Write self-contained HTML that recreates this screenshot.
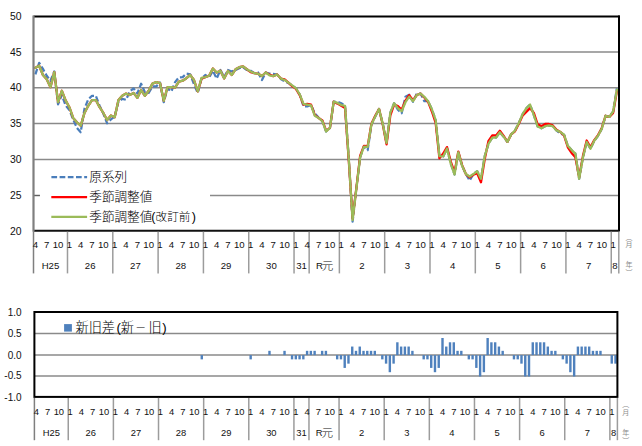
<!DOCTYPE html><html><head><meta charset="utf-8"><style>
html,body{margin:0;padding:0;background:#fff;}
svg{display:block;}
.n{font-family:"Liberation Sans",Arial,sans-serif;fill:#111;}
.j{font-family:"Liberation Sans","Noto Sans CJK JP",sans-serif;fill:#111;}.L{font-weight:300;fill:#000;}
</style></head><body>
<svg width="642" height="446" viewBox="0 0 642 446">
<rect width="642" height="446" fill="#fff"/>
<line x1="33.5" y1="52.0" x2="618.8" y2="52.0" stroke="#8a8a8a" stroke-width="1.5"/>
<line x1="33.5" y1="87.85" x2="618.8" y2="87.85" stroke="#8a8a8a" stroke-width="1.5"/>
<line x1="33.5" y1="123.6" x2="618.8" y2="123.6" stroke="#8a8a8a" stroke-width="1.5"/>
<line x1="33.5" y1="159.6" x2="618.8" y2="159.6" stroke="#8a8a8a" stroke-width="1.5"/>
<line x1="33.5" y1="195.5" x2="618.8" y2="195.5" stroke="#8a8a8a" stroke-width="1.5"/>
<text class="n" x="21.6" y="19.95" font-size="10.4" text-anchor="end">50</text>
<text class="n" x="21.6" y="55.72" font-size="10.4" text-anchor="end">45</text>
<text class="n" x="21.6" y="91.48" font-size="10.4" text-anchor="end">40</text>
<text class="n" x="21.6" y="127.25" font-size="10.4" text-anchor="end">35</text>
<text class="n" x="21.6" y="163.01" font-size="10.4" text-anchor="end">30</text>
<text class="n" x="21.6" y="198.78" font-size="10.4" text-anchor="end">25</text>
<text class="n" x="21.6" y="234.54" font-size="10.4" text-anchor="end">20</text>
<rect x="40" y="162" width="170" height="66" fill="#fff"/>
<line x1="33.5" y1="195.5" x2="39.8" y2="195.5" stroke="#606060" stroke-width="1.1"/>
<path d="M35.39 74.29 L39.16 62.84 L42.94 68.92 L46.72 75.72 L50.49 80.73 L54.27 71.43 L58.04 104.33 L61.82 95.03 L65.6 105.4 L69.37 110.05 L73.15 119.35 L76.93 127.94 L80.7 132.23 L84.48 108.62 L88.25 99.32 L92.03 95.75 L95.81 95.75 L99.58 105.76 L103.36 113.63 L107.13 123.29 L110.91 119.35 L114.69 116.49 L118.46 101.47 L122.24 98.82 L126.02 99.83 L129.79 91.46 L133.57 88.38 L137.34 93.39 L141.12 83.73 L144.9 92.1 L148.67 92.89 L152.45 86.45 L156.22 86.45 L160 82.52 L163.78 102.19 L167.55 88.24 L171.33 91.46 L175.1 82.16 L178.88 77.37 L182.66 77.15 L186.43 73.57 L190.21 74.29 L193.99 84.3 L197.76 92.89 L201.54 78.58 L205.31 75 L209.09 77.51 L212.87 70.71 L216.64 78.58 L220.42 70 L224.19 77.15 L227.97 70 L231.75 71.43 L235.52 70 L239.3 68.21 L243.08 67.14 L246.85 70 L250.63 70.71 L254.4 73.22 L258.18 72.5 L261.96 80.01 L265.73 72.5 L269.51 73.57 L273.28 73.93 L277.06 74.5 L280.84 78.94 L284.61 81.44 L288.39 82.87 L292.16 85.73 L295.94 88.24 L299.72 94.32 L303.49 106.48 L307.27 106.48 L311.05 105.05 L314.82 113.63 L318.6 117.56 L322.37 121.14 L326.15 131.51 L329.93 127.94 L333.7 101.69 L337.48 101.83 L341.25 103.26 L345.03 105.76 L348.81 159.41 L352.58 221.64 L356.36 188.74 L360.14 157.26 L363.91 146.53 L367.69 150.11 L371.46 124.36 L375.24 116.49 L379.02 108.98 L382.79 123.86 L386.57 142.96 L390.34 112.56 L394.12 103.26 L397.9 109.7 L401.67 113.2 L405.45 96.68 L409.22 94.68 L413 101.83 L416.78 93.67 L420.55 93.6 L424.33 101.18 L428.11 101.18 L431.88 109.34 L435.66 120.07 L439.43 156.19 L443.21 156.41 L446.99 148.54 L450.76 163.7 L454.54 174.5 L458.31 152.26 L462.09 165.85 L465.87 174.07 L469.64 180.51 L473.42 174.07 L477.2 171.14 L480.97 178.72 L484.75 156.19 L488.52 143.67 L492.3 137.66 L496.08 137.52 L499.85 132.23 L503.63 136.66 L507.4 141.89 L511.18 134.37 L514.96 130.58 L518.73 123.29 L522.51 114.35 L526.28 108.27 L530.06 104.55 L533.84 115.06 L537.61 126.51 L541.39 128.29 L545.17 126.15 L548.94 125.43 L552.72 126.15 L556.49 130.44 L560.27 133.66 L564.05 134.73 L567.82 145.82 L571.6 150.11 L575.37 153.69 L579.15 178.72 L582.93 157.55 L586.7 141.96 L590.48 148.68 L594.26 140.81 L598.03 135.81 L601.81 128.65 L605.58 115.78 L609.36 116.85 L613.14 111.48 L616.91 88.24" fill="none" stroke="#4a7ebb" stroke-width="2.25" stroke-dasharray="5.7 2.5" stroke-linejoin="round"/>
<path d="M35.39 67.85 L39.16 65.71 L42.94 75 L46.72 79.3 L50.49 87.16 L54.27 72.14 L58.04 102.19 L61.82 90.74 L65.6 100.4 L69.37 107.19 L73.15 117.92 L76.93 122.21 L80.7 125.79 L84.48 112.92 L88.25 105.76 L92.03 100.04 L95.81 100.04 L99.58 107.19 L103.36 112.92 L107.13 120.07 L110.91 115.42 L114.69 117.21 L118.46 100.04 L122.24 95.75 L126.02 93.6 L129.79 95.03 L133.57 92.89 L137.34 97.89 L141.12 90.03 L144.9 95.75 L148.67 90.74 L152.45 83.59 L156.22 82.16 L160 83.09 L163.78 100.76 L167.55 87.16 L171.33 87.16 L175.1 87.52 L178.88 81.66 L182.66 80.73 L186.43 78.22 L190.21 75 L193.99 80.01 L197.76 91.46 L201.54 78.58 L205.31 77.15 L209.09 75.72 L212.87 68.57 L216.64 72.5 L220.42 70.71 L224.19 78.58 L227.97 71.07 L231.75 75 L235.52 69.28 L239.3 67.14 L243.08 66.42 L246.85 69.28 L250.63 72.14 L254.4 73.22 L258.18 73.79 L261.96 76.01 L265.73 72.5 L269.51 74.65 L273.28 76.15 L277.06 74.5 L280.84 78.58 L284.61 79.3 L288.39 82.66 L292.16 86.09 L295.94 88.95 L299.72 95.03 L303.49 104.62 L307.27 103.97 L311.05 104.69 L314.82 115.06 L318.6 117.92 L322.37 120.43 L326.15 130.8 L329.93 127.94 L333.7 101.69 L337.48 103.62 L341.25 105.76 L345.03 107.91 L348.81 160.84 L352.58 218.78 L356.36 188.02 L360.14 155.83 L363.91 145.82 L367.69 146.18 L371.46 123.65 L375.24 115.78 L379.02 108.98 L382.79 124.57 L386.57 144.39 L390.34 115.42 L394.12 104.69 L397.9 106.12 L401.67 109.77 L405.45 100.76 L409.22 95.25 L413 100.47 L416.78 95.03 L420.55 93.6 L424.33 97.54 L428.11 101.9 L431.88 111.48 L435.66 122.93 L439.43 158.34 L443.21 153.54 L446.99 147.11 L450.76 161.56 L454.54 172.36 L458.31 151.54 L462.09 165.13 L465.87 174.07 L469.64 177.29 L473.42 174.79 L477.2 173.29 L480.97 182.3 L484.75 159.05 L488.52 140.81 L492.3 135.52 L496.08 135.38 L499.85 130.8 L503.63 135.95 L507.4 141.89 L511.18 134.37 L514.96 131.3 L518.73 124 L522.51 115.78 L526.28 111.84 L530.06 108.12 L533.84 112.92 L537.61 124.36 L541.39 126.15 L545.17 124 L548.94 124 L552.72 125.43 L556.49 129.73 L560.27 131.94 L564.05 135.45 L567.82 147.25 L571.6 152.97 L575.37 157.26 L579.15 177.29 L582.93 156.12 L586.7 140.53 L590.48 147.25 L594.26 140.1 L598.03 135.09 L601.81 127.94 L605.58 115.78 L609.36 116.85 L613.14 112.92 L616.91 91.1" fill="none" stroke="#ff0000" stroke-width="2.3" stroke-linejoin="round" stroke-linecap="round"/>
<path d="M35.39 67.85 L39.16 65.71 L42.94 75 L46.72 79.3 L50.49 87.16 L54.27 72.14 L58.04 102.19 L61.82 90.74 L65.6 100.4 L69.37 107.19 L73.15 117.92 L76.93 122.21 L80.7 125.79 L84.48 112.92 L88.25 105.76 L92.03 100.04 L95.81 100.04 L99.58 107.19 L103.36 112.92 L107.13 120.07 L110.91 115.42 L114.69 117.21 L118.46 100.04 L122.24 95.75 L126.02 93.6 L129.79 95.03 L133.57 92.89 L137.34 97.89 L141.12 90.03 L144.9 95.75 L148.67 90.74 L152.45 83.59 L156.22 82.16 L160 83.09 L163.78 100.76 L167.55 87.16 L171.33 87.16 L175.1 87.52 L178.88 81.66 L182.66 80.73 L186.43 78.22 L190.21 75 L193.99 80.01 L197.76 91.46 L201.54 77.87 L205.31 77.15 L209.09 75.72 L212.87 68.57 L216.64 72.5 L220.42 70.71 L224.19 78.58 L227.97 71.07 L231.75 75 L235.52 69.28 L239.3 67.14 L243.08 66.42 L246.85 69.28 L250.63 71.43 L254.4 73.22 L258.18 73.79 L261.96 76.01 L265.73 72.5 L269.51 75.36 L273.28 76.15 L277.06 74.5 L280.84 78.58 L284.61 80.01 L288.39 82.66 L292.16 85.38 L295.94 88.24 L299.72 94.32 L303.49 103.9 L307.27 104.69 L311.05 105.4 L314.82 115.78 L318.6 117.92 L322.37 121.14 L326.15 131.51 L329.93 127.94 L333.7 101.69 L337.48 102.9 L341.25 105.05 L345.03 105.76 L348.81 159.41 L352.58 220.21 L356.36 188.74 L360.14 157.26 L363.91 146.53 L367.69 146.89 L371.46 124.36 L375.24 116.49 L379.02 108.98 L382.79 123.86 L386.57 142.96 L390.34 112.56 L394.12 103.26 L397.9 108.27 L401.67 111.2 L405.45 102.19 L409.22 96.68 L413 101.18 L416.78 95.03 L420.55 93.6 L424.33 96.82 L428.11 101.18 L431.88 109.34 L435.66 120.07 L439.43 156.19 L443.21 156.41 L446.99 148.54 L450.76 163.7 L454.54 174.5 L458.31 152.26 L462.09 165.85 L465.87 174.07 L469.64 176.58 L473.42 174.07 L477.2 171.14 L480.97 178.72 L484.75 156.19 L488.52 143.67 L492.3 137.66 L496.08 137.52 L499.85 132.23 L503.63 136.66 L507.4 141.89 L511.18 134.37 L514.96 130.58 L518.73 123.29 L522.51 114.35 L526.28 108.27 L530.06 104.55 L533.84 115.06 L537.61 126.51 L541.39 128.29 L545.17 126.15 L548.94 125.43 L552.72 126.15 L556.49 130.44 L560.27 131.94 L564.05 134.73 L567.82 145.82 L571.6 150.11 L575.37 153.69 L579.15 178.72 L582.93 157.55 L586.7 141.96 L590.48 148.68 L594.26 140.81 L598.03 135.81 L601.81 128.65 L605.58 115.78 L609.36 116.85 L613.14 111.48 L616.91 89.67" fill="none" stroke="#9bbb59" stroke-width="2.3" stroke-linejoin="round" stroke-linecap="round"/>
<line x1="51.4" y1="177" x2="87.1" y2="177" stroke="#4a7ebb" stroke-width="2.25" stroke-dasharray="5.7 2.5"/>
<line x1="51.3" y1="197" x2="87.1" y2="197" stroke="#ff0000" stroke-width="2.25"/>
<line x1="51.3" y1="216.9" x2="87.1" y2="216.9" stroke="#9bbb59" stroke-width="2.25"/>
<text class="j L" x="89.3" y="181.2" font-size="12.6">原系列</text>
<text class="j L" x="89.3" y="201.2" font-size="12.6">季節調整値</text>
<text class="j L" y="221.2" font-size="12.6"><tspan x="89.3">季節調整値</tspan><tspan x="151.3">(</tspan><tspan x="155.6" font-size="11.6">改訂前</tspan><tspan x="191.8">)</tspan></text>
<line x1="33.5" y1="16.5" x2="619.8" y2="16.5" stroke="#000" stroke-width="2"/>
<line x1="619" y1="15.5" x2="619" y2="231.6" stroke="#000" stroke-width="2"/>
<line x1="33.5" y1="230.7" x2="618.8" y2="230.7" stroke="#111" stroke-width="2"/>
<line x1="33.5" y1="15.5" x2="33.5" y2="231.7" stroke="#7f7f7f" stroke-width="2.2"/>
<line x1="33.5" y1="231.7" x2="33.5" y2="273.4" stroke="#7f7f7f" stroke-width="1.5"/>
<line x1="67.49" y1="231.7" x2="67.49" y2="273.4" stroke="#9c9c9c" stroke-width="1.5"/>
<line x1="112.8" y1="231.7" x2="112.8" y2="273.4" stroke="#9c9c9c" stroke-width="1.5"/>
<line x1="158.11" y1="231.7" x2="158.11" y2="273.4" stroke="#9c9c9c" stroke-width="1.5"/>
<line x1="203.43" y1="231.7" x2="203.43" y2="273.4" stroke="#9c9c9c" stroke-width="1.5"/>
<line x1="248.74" y1="231.7" x2="248.74" y2="273.4" stroke="#9c9c9c" stroke-width="1.5"/>
<line x1="294.05" y1="231.7" x2="294.05" y2="273.4" stroke="#9c9c9c" stroke-width="1.5"/>
<line x1="309.16" y1="231.7" x2="309.16" y2="273.4" stroke="#9c9c9c" stroke-width="1.5"/>
<line x1="339.37" y1="231.7" x2="339.37" y2="273.4" stroke="#9c9c9c" stroke-width="1.5"/>
<line x1="384.68" y1="231.7" x2="384.68" y2="273.4" stroke="#9c9c9c" stroke-width="1.5"/>
<line x1="429.99" y1="231.7" x2="429.99" y2="273.4" stroke="#9c9c9c" stroke-width="1.5"/>
<line x1="475.31" y1="231.7" x2="475.31" y2="273.4" stroke="#9c9c9c" stroke-width="1.5"/>
<line x1="520.62" y1="231.7" x2="520.62" y2="273.4" stroke="#9c9c9c" stroke-width="1.5"/>
<line x1="565.93" y1="231.7" x2="565.93" y2="273.4" stroke="#9c9c9c" stroke-width="1.5"/>
<line x1="611.25" y1="231.7" x2="611.25" y2="273.4" stroke="#9c9c9c" stroke-width="1.5"/>
<line x1="618.8" y1="231.7" x2="618.8" y2="273.4" stroke="#9c9c9c" stroke-width="1.5"/>
<text class="n" x="35.39" y="248.1" font-size="9.6" text-anchor="middle">4</text>
<text class="n" x="46.72" y="248.1" font-size="9.6" text-anchor="middle">7</text>
<text class="n" x="58.04" y="248.1" font-size="9.6" text-anchor="middle">10</text>
<text class="n" x="69.37" y="248.1" font-size="9.6" text-anchor="middle">1</text>
<text class="n" x="80.7" y="248.1" font-size="9.6" text-anchor="middle">4</text>
<text class="n" x="92.03" y="248.1" font-size="9.6" text-anchor="middle">7</text>
<text class="n" x="103.36" y="248.1" font-size="9.6" text-anchor="middle">10</text>
<text class="n" x="114.69" y="248.1" font-size="9.6" text-anchor="middle">1</text>
<text class="n" x="126.02" y="248.1" font-size="9.6" text-anchor="middle">4</text>
<text class="n" x="137.34" y="248.1" font-size="9.6" text-anchor="middle">7</text>
<text class="n" x="148.67" y="248.1" font-size="9.6" text-anchor="middle">10</text>
<text class="n" x="160" y="248.1" font-size="9.6" text-anchor="middle">1</text>
<text class="n" x="171.33" y="248.1" font-size="9.6" text-anchor="middle">4</text>
<text class="n" x="182.66" y="248.1" font-size="9.6" text-anchor="middle">7</text>
<text class="n" x="193.99" y="248.1" font-size="9.6" text-anchor="middle">10</text>
<text class="n" x="205.31" y="248.1" font-size="9.6" text-anchor="middle">1</text>
<text class="n" x="216.64" y="248.1" font-size="9.6" text-anchor="middle">4</text>
<text class="n" x="227.97" y="248.1" font-size="9.6" text-anchor="middle">7</text>
<text class="n" x="239.3" y="248.1" font-size="9.6" text-anchor="middle">10</text>
<text class="n" x="250.63" y="248.1" font-size="9.6" text-anchor="middle">1</text>
<text class="n" x="261.96" y="248.1" font-size="9.6" text-anchor="middle">4</text>
<text class="n" x="273.28" y="248.1" font-size="9.6" text-anchor="middle">7</text>
<text class="n" x="284.61" y="248.1" font-size="9.6" text-anchor="middle">10</text>
<text class="n" x="295.94" y="248.1" font-size="9.6" text-anchor="middle">1</text>
<text class="n" x="307.27" y="248.1" font-size="9.6" text-anchor="middle">4</text>
<text class="n" x="318.6" y="248.1" font-size="9.6" text-anchor="middle">7</text>
<text class="n" x="329.93" y="248.1" font-size="9.6" text-anchor="middle">10</text>
<text class="n" x="341.25" y="248.1" font-size="9.6" text-anchor="middle">1</text>
<text class="n" x="352.58" y="248.1" font-size="9.6" text-anchor="middle">4</text>
<text class="n" x="363.91" y="248.1" font-size="9.6" text-anchor="middle">7</text>
<text class="n" x="375.24" y="248.1" font-size="9.6" text-anchor="middle">10</text>
<text class="n" x="386.57" y="248.1" font-size="9.6" text-anchor="middle">1</text>
<text class="n" x="397.9" y="248.1" font-size="9.6" text-anchor="middle">4</text>
<text class="n" x="409.22" y="248.1" font-size="9.6" text-anchor="middle">7</text>
<text class="n" x="420.55" y="248.1" font-size="9.6" text-anchor="middle">10</text>
<text class="n" x="431.88" y="248.1" font-size="9.6" text-anchor="middle">1</text>
<text class="n" x="443.21" y="248.1" font-size="9.6" text-anchor="middle">4</text>
<text class="n" x="454.54" y="248.1" font-size="9.6" text-anchor="middle">7</text>
<text class="n" x="465.87" y="248.1" font-size="9.6" text-anchor="middle">10</text>
<text class="n" x="477.2" y="248.1" font-size="9.6" text-anchor="middle">1</text>
<text class="n" x="488.52" y="248.1" font-size="9.6" text-anchor="middle">4</text>
<text class="n" x="499.85" y="248.1" font-size="9.6" text-anchor="middle">7</text>
<text class="n" x="511.18" y="248.1" font-size="9.6" text-anchor="middle">10</text>
<text class="n" x="522.51" y="248.1" font-size="9.6" text-anchor="middle">1</text>
<text class="n" x="533.84" y="248.1" font-size="9.6" text-anchor="middle">4</text>
<text class="n" x="545.17" y="248.1" font-size="9.6" text-anchor="middle">7</text>
<text class="n" x="556.49" y="248.1" font-size="9.6" text-anchor="middle">10</text>
<text class="n" x="567.82" y="248.1" font-size="9.6" text-anchor="middle">1</text>
<text class="n" x="579.15" y="248.1" font-size="9.6" text-anchor="middle">4</text>
<text class="n" x="590.48" y="248.1" font-size="9.6" text-anchor="middle">7</text>
<text class="n" x="601.81" y="248.1" font-size="9.6" text-anchor="middle">10</text>
<text class="n" x="613.14" y="248.1" font-size="9.6" text-anchor="middle">1</text>
<text class="j" x="50.49" y="269.1" font-size="9.6" text-anchor="middle">H25</text>
<text class="j" x="90.14" y="269.1" font-size="9.6" text-anchor="middle">26</text>
<text class="j" x="135.46" y="269.1" font-size="9.6" text-anchor="middle">27</text>
<text class="j" x="180.77" y="269.1" font-size="9.6" text-anchor="middle">28</text>
<text class="j" x="226.08" y="269.1" font-size="9.6" text-anchor="middle">29</text>
<text class="j" x="271.4" y="269.1" font-size="9.6" text-anchor="middle">30</text>
<text class="j" x="301.61" y="269.1" font-size="9.6" text-anchor="middle">31</text>
<text class="j" x="316.06" y="269.1" font-size="9.6">R<tspan x="321.76" font-size="11.6" font-weight="300" dy="0.8">元</tspan></text>
<text class="j" x="362.02" y="269.1" font-size="9.6" text-anchor="middle">2</text>
<text class="j" x="407.34" y="269.1" font-size="9.6" text-anchor="middle">3</text>
<text class="j" x="452.65" y="269.1" font-size="9.6" text-anchor="middle">4</text>
<text class="j" x="497.96" y="269.1" font-size="9.6" text-anchor="middle">5</text>
<text class="j" x="543.28" y="269.1" font-size="9.6" text-anchor="middle">6</text>
<text class="j" x="588.59" y="269.1" font-size="9.6" text-anchor="middle">7</text>
<text class="j" x="615.02" y="269.1" font-size="9.6" text-anchor="middle">8</text>
<text class="j" x="628.9" y="240.2" font-size="7" style="fill:#8c8c8c" text-anchor="middle">︵</text>
<text class="j" x="628.9" y="247.1" font-size="7" style="fill:#8c8c8c" text-anchor="middle">月</text>
<text class="j" x="628.9" y="267.3" font-size="7" style="fill:#8c8c8c" text-anchor="middle">年</text>
<text class="j" x="628.9" y="275.4" font-size="7" style="fill:#8c8c8c" text-anchor="middle">︶</text>
<line x1="34.4" y1="333.4" x2="617.4" y2="333.4" stroke="#8a8a8a" stroke-width="1.5"/>
<line x1="34.4" y1="355.1" x2="617.4" y2="355.1" stroke="#8a8a8a" stroke-width="1.5"/>
<line x1="34.4" y1="376.1" x2="617.4" y2="376.1" stroke="#8a8a8a" stroke-width="1.5"/>
<text class="n" x="21.6" y="315.5" font-size="10" text-anchor="end">1.0</text>
<text class="n" x="21.6" y="337" font-size="10" text-anchor="end">0.5</text>
<text class="n" x="21.6" y="358.5" font-size="10" text-anchor="end">0.0</text>
<text class="n" x="21.6" y="379.3" font-size="10" text-anchor="end">-0.5</text>
<text class="n" x="21.6" y="400.7" font-size="10" text-anchor="end">-1.0</text>
<rect x="200.58" y="355.1" width="2.4" height="4.27" fill="#4f81bd"/>
<rect x="249.47" y="355.1" width="2.4" height="4.27" fill="#4f81bd"/>
<rect x="268.28" y="350.83" width="2.4" height="4.27" fill="#4f81bd"/>
<rect x="283.33" y="350.83" width="2.4" height="4.27" fill="#4f81bd"/>
<rect x="290.85" y="355.1" width="2.4" height="4.27" fill="#4f81bd"/>
<rect x="294.61" y="355.1" width="2.4" height="4.27" fill="#4f81bd"/>
<rect x="298.37" y="355.1" width="2.4" height="4.27" fill="#4f81bd"/>
<rect x="302.13" y="355.1" width="2.4" height="4.27" fill="#4f81bd"/>
<rect x="305.89" y="350.83" width="2.4" height="4.27" fill="#4f81bd"/>
<rect x="309.65" y="350.83" width="2.4" height="4.27" fill="#4f81bd"/>
<rect x="313.42" y="350.83" width="2.4" height="4.27" fill="#4f81bd"/>
<rect x="320.94" y="350.83" width="2.4" height="4.27" fill="#4f81bd"/>
<rect x="324.7" y="350.83" width="2.4" height="4.27" fill="#4f81bd"/>
<rect x="335.98" y="355.1" width="2.4" height="4.27" fill="#4f81bd"/>
<rect x="339.75" y="355.1" width="2.4" height="4.27" fill="#4f81bd"/>
<rect x="343.51" y="355.1" width="2.4" height="12.82" fill="#4f81bd"/>
<rect x="347.27" y="355.1" width="2.4" height="8.55" fill="#4f81bd"/>
<rect x="351.03" y="346.55" width="2.4" height="8.55" fill="#4f81bd"/>
<rect x="354.79" y="350.83" width="2.4" height="4.27" fill="#4f81bd"/>
<rect x="358.55" y="346.55" width="2.4" height="8.55" fill="#4f81bd"/>
<rect x="362.31" y="350.83" width="2.4" height="4.27" fill="#4f81bd"/>
<rect x="366.07" y="350.83" width="2.4" height="4.27" fill="#4f81bd"/>
<rect x="369.84" y="350.83" width="2.4" height="4.27" fill="#4f81bd"/>
<rect x="373.6" y="350.83" width="2.4" height="4.27" fill="#4f81bd"/>
<rect x="381.12" y="355.1" width="2.4" height="4.27" fill="#4f81bd"/>
<rect x="384.88" y="355.1" width="2.4" height="8.55" fill="#4f81bd"/>
<rect x="388.64" y="355.1" width="2.4" height="17.1" fill="#4f81bd"/>
<rect x="392.4" y="355.1" width="2.4" height="8.55" fill="#4f81bd"/>
<rect x="396.16" y="342.28" width="2.4" height="12.82" fill="#4f81bd"/>
<rect x="399.93" y="346.55" width="2.4" height="8.55" fill="#4f81bd"/>
<rect x="403.69" y="346.55" width="2.4" height="8.55" fill="#4f81bd"/>
<rect x="407.45" y="346.55" width="2.4" height="8.55" fill="#4f81bd"/>
<rect x="411.21" y="350.83" width="2.4" height="4.27" fill="#4f81bd"/>
<rect x="422.49" y="355.1" width="2.4" height="4.27" fill="#4f81bd"/>
<rect x="426.25" y="355.1" width="2.4" height="4.27" fill="#4f81bd"/>
<rect x="430.02" y="355.1" width="2.4" height="12.82" fill="#4f81bd"/>
<rect x="433.78" y="355.1" width="2.4" height="17.1" fill="#4f81bd"/>
<rect x="437.54" y="355.1" width="2.4" height="12.82" fill="#4f81bd"/>
<rect x="441.3" y="338" width="2.4" height="17.1" fill="#4f81bd"/>
<rect x="445.06" y="346.55" width="2.4" height="8.55" fill="#4f81bd"/>
<rect x="448.82" y="342.28" width="2.4" height="12.82" fill="#4f81bd"/>
<rect x="452.58" y="342.28" width="2.4" height="12.82" fill="#4f81bd"/>
<rect x="456.35" y="350.83" width="2.4" height="4.27" fill="#4f81bd"/>
<rect x="460.11" y="350.83" width="2.4" height="4.27" fill="#4f81bd"/>
<rect x="467.63" y="355.1" width="2.4" height="4.27" fill="#4f81bd"/>
<rect x="471.39" y="355.1" width="2.4" height="4.27" fill="#4f81bd"/>
<rect x="475.15" y="355.1" width="2.4" height="12.82" fill="#4f81bd"/>
<rect x="478.91" y="355.1" width="2.4" height="21.38" fill="#4f81bd"/>
<rect x="482.67" y="355.1" width="2.4" height="17.1" fill="#4f81bd"/>
<rect x="486.44" y="338" width="2.4" height="17.1" fill="#4f81bd"/>
<rect x="490.2" y="342.28" width="2.4" height="12.82" fill="#4f81bd"/>
<rect x="493.96" y="342.28" width="2.4" height="12.82" fill="#4f81bd"/>
<rect x="497.72" y="346.55" width="2.4" height="8.55" fill="#4f81bd"/>
<rect x="501.48" y="350.83" width="2.4" height="4.27" fill="#4f81bd"/>
<rect x="512.76" y="355.1" width="2.4" height="4.27" fill="#4f81bd"/>
<rect x="516.53" y="355.1" width="2.4" height="4.27" fill="#4f81bd"/>
<rect x="520.29" y="355.1" width="2.4" height="8.55" fill="#4f81bd"/>
<rect x="524.05" y="355.1" width="2.4" height="21.38" fill="#4f81bd"/>
<rect x="527.81" y="355.1" width="2.4" height="21.38" fill="#4f81bd"/>
<rect x="531.57" y="342.28" width="2.4" height="12.82" fill="#4f81bd"/>
<rect x="535.33" y="342.28" width="2.4" height="12.82" fill="#4f81bd"/>
<rect x="539.09" y="342.28" width="2.4" height="12.82" fill="#4f81bd"/>
<rect x="542.85" y="342.28" width="2.4" height="12.82" fill="#4f81bd"/>
<rect x="546.62" y="346.55" width="2.4" height="8.55" fill="#4f81bd"/>
<rect x="550.38" y="350.83" width="2.4" height="4.27" fill="#4f81bd"/>
<rect x="554.14" y="350.83" width="2.4" height="4.27" fill="#4f81bd"/>
<rect x="561.66" y="355.1" width="2.4" height="4.27" fill="#4f81bd"/>
<rect x="565.42" y="355.1" width="2.4" height="8.55" fill="#4f81bd"/>
<rect x="569.18" y="355.1" width="2.4" height="17.1" fill="#4f81bd"/>
<rect x="572.95" y="355.1" width="2.4" height="21.38" fill="#4f81bd"/>
<rect x="576.71" y="346.55" width="2.4" height="8.55" fill="#4f81bd"/>
<rect x="580.47" y="346.55" width="2.4" height="8.55" fill="#4f81bd"/>
<rect x="584.23" y="346.55" width="2.4" height="8.55" fill="#4f81bd"/>
<rect x="587.99" y="346.55" width="2.4" height="8.55" fill="#4f81bd"/>
<rect x="591.75" y="350.83" width="2.4" height="4.27" fill="#4f81bd"/>
<rect x="595.51" y="350.83" width="2.4" height="4.27" fill="#4f81bd"/>
<rect x="599.27" y="350.83" width="2.4" height="4.27" fill="#4f81bd"/>
<rect x="610.56" y="355.1" width="2.4" height="8.55" fill="#4f81bd"/>
<rect x="614.32" y="355.1" width="2.4" height="8.55" fill="#4f81bd"/>
<rect x="64.1" y="324.1" width="7.8" height="7.5" fill="#4f81bd"/>
<text class="j L" y="332.2" font-size="13.2"><tspan x="75.5">新旧差</tspan><tspan x="116.6">(</tspan><tspan x="120.8">新</tspan><tspan x="135.3" font-size="10.8" dy="-0.6">－</tspan><tspan x="148.6" dy="0.6">旧</tspan><tspan x="162.3">)</tspan></text>
<rect x="34.4" y="312" width="583" height="84.9" fill="none" stroke="#000" stroke-width="2"/>
<line x1="34.4" y1="397.9" x2="34.4" y2="440.2" stroke="#7f7f7f" stroke-width="1.5"/>
<line x1="68.25" y1="397.9" x2="68.25" y2="440.2" stroke="#9c9c9c" stroke-width="1.5"/>
<line x1="113.39" y1="397.9" x2="113.39" y2="440.2" stroke="#9c9c9c" stroke-width="1.5"/>
<line x1="158.52" y1="397.9" x2="158.52" y2="440.2" stroke="#9c9c9c" stroke-width="1.5"/>
<line x1="203.66" y1="397.9" x2="203.66" y2="440.2" stroke="#9c9c9c" stroke-width="1.5"/>
<line x1="248.79" y1="397.9" x2="248.79" y2="440.2" stroke="#9c9c9c" stroke-width="1.5"/>
<line x1="293.93" y1="397.9" x2="293.93" y2="440.2" stroke="#9c9c9c" stroke-width="1.5"/>
<line x1="308.97" y1="397.9" x2="308.97" y2="440.2" stroke="#9c9c9c" stroke-width="1.5"/>
<line x1="339.06" y1="397.9" x2="339.06" y2="440.2" stroke="#9c9c9c" stroke-width="1.5"/>
<line x1="384.2" y1="397.9" x2="384.2" y2="440.2" stroke="#9c9c9c" stroke-width="1.5"/>
<line x1="429.34" y1="397.9" x2="429.34" y2="440.2" stroke="#9c9c9c" stroke-width="1.5"/>
<line x1="474.47" y1="397.9" x2="474.47" y2="440.2" stroke="#9c9c9c" stroke-width="1.5"/>
<line x1="519.61" y1="397.9" x2="519.61" y2="440.2" stroke="#9c9c9c" stroke-width="1.5"/>
<line x1="564.74" y1="397.9" x2="564.74" y2="440.2" stroke="#9c9c9c" stroke-width="1.5"/>
<line x1="609.88" y1="397.9" x2="609.88" y2="440.2" stroke="#9c9c9c" stroke-width="1.5"/>
<line x1="617.4" y1="397.9" x2="617.4" y2="440.2" stroke="#9c9c9c" stroke-width="1.5"/>
<text class="n" x="36.28" y="415" font-size="9.4" text-anchor="middle">4</text>
<text class="n" x="47.56" y="415" font-size="9.4" text-anchor="middle">7</text>
<text class="n" x="58.85" y="415" font-size="9.4" text-anchor="middle">10</text>
<text class="n" x="70.13" y="415" font-size="9.4" text-anchor="middle">1</text>
<text class="n" x="81.42" y="415" font-size="9.4" text-anchor="middle">4</text>
<text class="n" x="92.7" y="415" font-size="9.4" text-anchor="middle">7</text>
<text class="n" x="103.98" y="415" font-size="9.4" text-anchor="middle">10</text>
<text class="n" x="115.27" y="415" font-size="9.4" text-anchor="middle">1</text>
<text class="n" x="126.55" y="415" font-size="9.4" text-anchor="middle">4</text>
<text class="n" x="137.84" y="415" font-size="9.4" text-anchor="middle">7</text>
<text class="n" x="149.12" y="415" font-size="9.4" text-anchor="middle">10</text>
<text class="n" x="160.4" y="415" font-size="9.4" text-anchor="middle">1</text>
<text class="n" x="171.69" y="415" font-size="9.4" text-anchor="middle">4</text>
<text class="n" x="182.97" y="415" font-size="9.4" text-anchor="middle">7</text>
<text class="n" x="194.25" y="415" font-size="9.4" text-anchor="middle">10</text>
<text class="n" x="205.54" y="415" font-size="9.4" text-anchor="middle">1</text>
<text class="n" x="216.82" y="415" font-size="9.4" text-anchor="middle">4</text>
<text class="n" x="228.11" y="415" font-size="9.4" text-anchor="middle">7</text>
<text class="n" x="239.39" y="415" font-size="9.4" text-anchor="middle">10</text>
<text class="n" x="250.67" y="415" font-size="9.4" text-anchor="middle">1</text>
<text class="n" x="261.96" y="415" font-size="9.4" text-anchor="middle">4</text>
<text class="n" x="273.24" y="415" font-size="9.4" text-anchor="middle">7</text>
<text class="n" x="284.53" y="415" font-size="9.4" text-anchor="middle">10</text>
<text class="n" x="295.81" y="415" font-size="9.4" text-anchor="middle">1</text>
<text class="n" x="307.09" y="415" font-size="9.4" text-anchor="middle">4</text>
<text class="n" x="318.38" y="415" font-size="9.4" text-anchor="middle">7</text>
<text class="n" x="329.66" y="415" font-size="9.4" text-anchor="middle">10</text>
<text class="n" x="340.95" y="415" font-size="9.4" text-anchor="middle">1</text>
<text class="n" x="352.23" y="415" font-size="9.4" text-anchor="middle">4</text>
<text class="n" x="363.51" y="415" font-size="9.4" text-anchor="middle">7</text>
<text class="n" x="374.8" y="415" font-size="9.4" text-anchor="middle">10</text>
<text class="n" x="386.08" y="415" font-size="9.4" text-anchor="middle">1</text>
<text class="n" x="397.36" y="415" font-size="9.4" text-anchor="middle">4</text>
<text class="n" x="408.65" y="415" font-size="9.4" text-anchor="middle">7</text>
<text class="n" x="419.93" y="415" font-size="9.4" text-anchor="middle">10</text>
<text class="n" x="431.22" y="415" font-size="9.4" text-anchor="middle">1</text>
<text class="n" x="442.5" y="415" font-size="9.4" text-anchor="middle">4</text>
<text class="n" x="453.78" y="415" font-size="9.4" text-anchor="middle">7</text>
<text class="n" x="465.07" y="415" font-size="9.4" text-anchor="middle">10</text>
<text class="n" x="476.35" y="415" font-size="9.4" text-anchor="middle">1</text>
<text class="n" x="487.64" y="415" font-size="9.4" text-anchor="middle">4</text>
<text class="n" x="498.92" y="415" font-size="9.4" text-anchor="middle">7</text>
<text class="n" x="510.2" y="415" font-size="9.4" text-anchor="middle">10</text>
<text class="n" x="521.49" y="415" font-size="9.4" text-anchor="middle">1</text>
<text class="n" x="532.77" y="415" font-size="9.4" text-anchor="middle">4</text>
<text class="n" x="544.05" y="415" font-size="9.4" text-anchor="middle">7</text>
<text class="n" x="555.34" y="415" font-size="9.4" text-anchor="middle">10</text>
<text class="n" x="566.62" y="415" font-size="9.4" text-anchor="middle">1</text>
<text class="n" x="577.91" y="415" font-size="9.4" text-anchor="middle">4</text>
<text class="n" x="589.19" y="415" font-size="9.4" text-anchor="middle">7</text>
<text class="n" x="600.47" y="415" font-size="9.4" text-anchor="middle">10</text>
<text class="n" x="611.76" y="415" font-size="9.4" text-anchor="middle">1</text>
<text class="j" x="51.33" y="435.8" font-size="9.4" text-anchor="middle">H25</text>
<text class="j" x="90.82" y="435.8" font-size="9.4" text-anchor="middle">26</text>
<text class="j" x="135.95" y="435.8" font-size="9.4" text-anchor="middle">27</text>
<text class="j" x="181.09" y="435.8" font-size="9.4" text-anchor="middle">28</text>
<text class="j" x="226.23" y="435.8" font-size="9.4" text-anchor="middle">29</text>
<text class="j" x="271.36" y="435.8" font-size="9.4" text-anchor="middle">30</text>
<text class="j" x="301.45" y="435.8" font-size="9.4" text-anchor="middle">31</text>
<text class="j" x="315.82" y="435.8" font-size="9.4">R<tspan x="321.52" font-size="11.6" font-weight="300" dy="0.8">元</tspan></text>
<text class="j" x="361.63" y="435.8" font-size="9.4" text-anchor="middle">2</text>
<text class="j" x="406.77" y="435.8" font-size="9.4" text-anchor="middle">3</text>
<text class="j" x="451.9" y="435.8" font-size="9.4" text-anchor="middle">4</text>
<text class="j" x="497.04" y="435.8" font-size="9.4" text-anchor="middle">5</text>
<text class="j" x="542.17" y="435.8" font-size="9.4" text-anchor="middle">6</text>
<text class="j" x="587.31" y="435.8" font-size="9.4" text-anchor="middle">7</text>
<text class="j" x="613.64" y="435.8" font-size="9.4" text-anchor="middle">8</text>
<text class="j" x="625.8" y="407.45" font-size="7" style="fill:#8c8c8c" text-anchor="middle">︵</text>
<text class="j" x="625.8" y="415.0" font-size="7" style="fill:#8c8c8c" text-anchor="middle">月</text>
<text class="j" x="625.8" y="435.1" font-size="7" style="fill:#8c8c8c" text-anchor="middle">年</text>
<text class="j" x="625.8" y="443.2" font-size="7" style="fill:#8c8c8c" text-anchor="middle">︶</text>
</svg></body></html>
